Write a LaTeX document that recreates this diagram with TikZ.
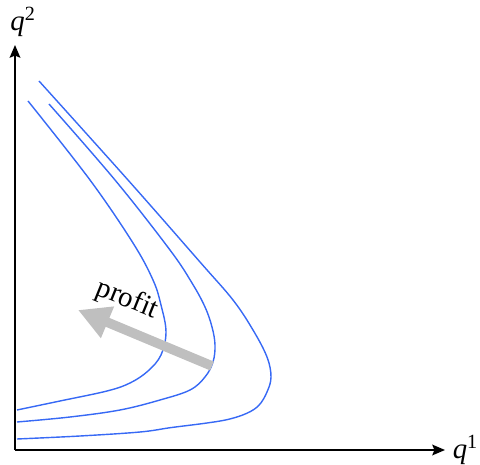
\documentclass[tikz,border=0pt]{standalone}
\usepackage{fontspec}
\setmainfont{Liberation Serif}
\usetikzlibrary{arrows.meta}
\definecolor{isoblue}{RGB}{55,105,245}

\begin{document}
\begin{tikzpicture}[font=\fontsize{20.5}{24}\selectfont,
	axis/.style={line width=1.6pt,-{Stealth[length=9pt,width=7.5pt,inset=1.5pt]}},
	iso/.style={isoblue,line width=1pt},
	profitarrow/.style={gray!50,line width=0.24cm,-{Triangle[length=0.8cm,width=0.8cm]}}]
	\useasboundingbox (-0.375,-0.375) rectangle (11.625,11.25);

	\coordinate (O) at (0,0);
	\coordinate (xtip) at (10.75,0);
	\coordinate (ytip) at (0,10.125);
	\draw [axis] (O) -- (xtip);
	\draw [axis] (O) -- (ytip);
	\node [right=2pt] (q1) at (xtip) {\textit{q}\textsuperscript{1}};
	\node (q2) at (0.2,10.7) {\textit{q}\textsuperscript{2}};

	\draw [iso] plot [smooth,tension=0.6] coordinates {(0.325,8.725) (1.875,6.75) (2.95,5.175) (3.45,4.25)
		(3.65,3.625) (3.775,2.95) (3.65,2.375) (3.325,1.975) (2.875,1.675) (2.3,1.475) (1.125,1.225) (0.05,1.0)};
	\draw [iso] plot [smooth,tension=0.6] coordinates {(0.85,8.65) (2.5,6.75) (3.875,5.0) (4.425,4.175)
		(4.75,3.575) (4.925,3.075) (5.0,2.625) (4.95,2.2) (4.75,1.825) (4.375,1.5) (3.625,1.25) (2.625,1.0) (1.375,0.825) (0.05,0.7)};
	\draw [iso] plot [smooth,tension=0.6] coordinates {(0.6,9.225) (2.825,6.75) (4.625,4.7) (5.45,3.75)
		(5.95,3.0) (6.3,2.325) (6.4,1.825) (6.3,1.45) (6.1,1.12) (5.8,0.92) (5.35,0.77) (4.8,0.675) (3.9,0.56) (3.125,0.45) (1.625,0.35) (0.05,0.275)};

	\coordinate (tail) at (4.925,2.1);
	\coordinate (tip) at (1.575,3.5);
	\draw [profitarrow] (tail) -- (tip);
	\node [rotate=-22] (profit) at (2.8,3.75) {profit};
\end{tikzpicture}
\end{document}
